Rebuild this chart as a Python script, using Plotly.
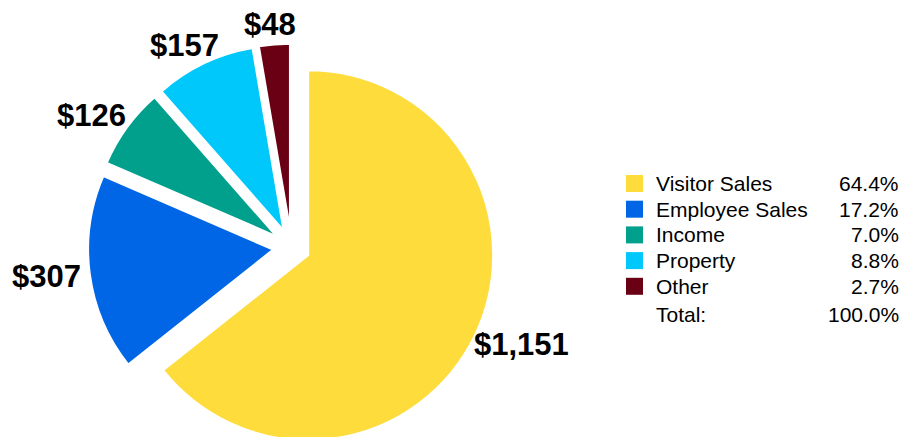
import math
import plotly.graph_objects as go

# ---- data ----
categories = ["Visitor Sales", "Employee Sales", "Income", "Property", "Other"]
values = [1151, 307, 126, 157, 48]
shares = ["64.4%", "17.2%", "7.0%", "8.8%", "2.7%"]
total_label = "Total:"
total_share = "100.0%"
colors = ["#FEDC3C", "#0066E5", "#00A08C", "#00C8FA", "#690014"]

W, H = 915, 445
FONT = "Liberation Sans, Arial, sans-serif"
PULL = 0.1
# pie geometry (figure pixels)
CX, CY, R = 283.5, 239.2, 185
HALF = R * (1 + PULL)
LABEL_SIZE = 31
LABEL_GAP = 7


def px(x):
    return x / W


def py(y):
    return 1 - y / H


fig = go.Figure()
fig.add_trace(go.Pie(
    labels=categories,
    values=values,
    sort=False,
    direction="clockwise",
    rotation=0,
    pull=[PULL] * len(values),
    marker=dict(colors=colors, line=dict(color="white", width=2)),
    textinfo="none",
    automargin=False,
    domain=dict(x=[px(CX - HALF), px(CX + HALF)], y=[py(CY + HALF), py(CY - HALF)]),
    showlegend=False,
    hoverinfo="label+value+percent",
))

shapes, annotations = [], []

# ---- value labels placed just outside each (pulled) slice, along its bisector ----
total = sum(values)
cum = 0
for v in values:
    mid = 2 * math.pi * (cum + v / 2) / total
    cum += v
    ux, uy = math.sin(mid), -math.cos(mid)
    text = f"${v:,}"
    w = LABEL_SIZE * (0.556 * len(text.replace(",", "")) + 0.278 * text.count(","))
    h = LABEL_SIZE * 0.86
    dist = R * (1 + PULL) + LABEL_GAP
    lx = CX + dist * ux + (w / 2) * ux - 2
    ly = CY + dist * uy + (h / 2) * uy
    annotations.append(dict(xref="paper", yref="paper", x=px(lx), y=py(ly),
                            text=f"<b>{text}</b>", showarrow=False,
                            xanchor="center", yanchor="middle",
                            font=dict(family=FONT, size=LABEL_SIZE, color="black")))

# ---- legend (drawn manually so squares and percentages line up) ----
row0, step = 175.5, 25.7
LEG_SIZE = 21
for i, (name, share, col) in enumerate(zip(categories, shares, colors)):
    yc = row0 + i * step
    shapes.append(dict(type="rect", xref="paper", yref="paper",
                       x0=px(618), x1=px(635), y0=py(yc - 8.5), y1=py(yc + 8.5),
                       fillcolor=col, line=dict(width=0)))
    annotations.append(dict(xref="paper", yref="paper", x=px(646), y=py(yc),
                            text=name, showarrow=False, xanchor="left", yanchor="middle",
                            font=dict(family=FONT, size=LEG_SIZE, color="black")))
    annotations.append(dict(xref="paper", yref="paper", x=px(893), y=py(yc),
                            text=share, showarrow=False, xanchor="right", yanchor="middle",
                            font=dict(family=FONT, size=LEG_SIZE, color="black")))
yt = 306
annotations.append(dict(xref="paper", yref="paper", x=px(646), y=py(yt),
                        text=total_label, showarrow=False, xanchor="left", yanchor="middle",
                        font=dict(family=FONT, size=LEG_SIZE, color="black")))
annotations.append(dict(xref="paper", yref="paper", x=px(893), y=py(yt),
                        text=total_share, showarrow=False, xanchor="right", yanchor="middle",
                        font=dict(family=FONT, size=LEG_SIZE, color="black")))

fig.update_layout(
    width=W, height=H,
    margin=dict(l=0, r=0, t=0, b=0, autoexpand=False),
    paper_bgcolor="white",
    plot_bgcolor="white",
    shapes=shapes,
    annotations=annotations,
    showlegend=False,
)

fig.write_html("out.html")
